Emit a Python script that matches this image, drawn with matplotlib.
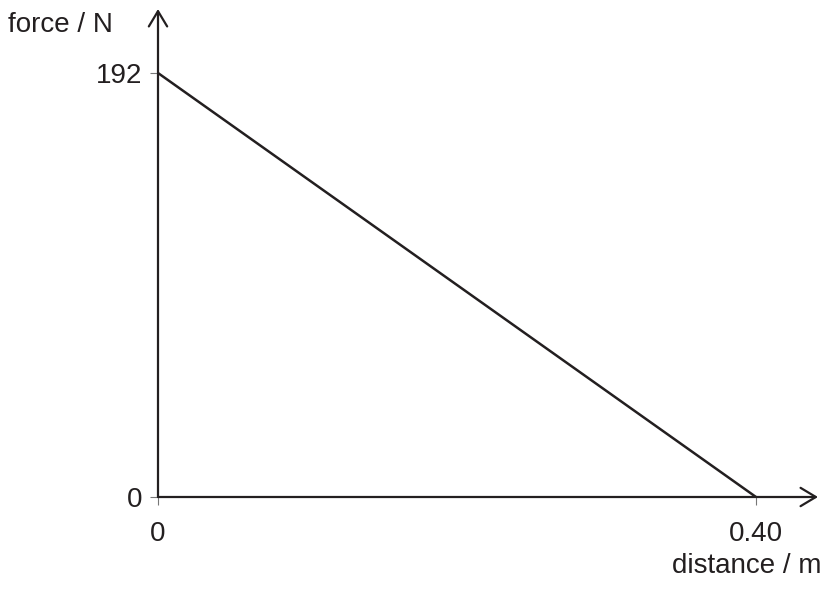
import matplotlib
matplotlib.use("Agg")
import matplotlib.pyplot as plt

distance = [0.0, 0.40]
force = [192, 0]
xticks = [0, 0.40]
xtick_labels = ["0", "0.40"]
yticks = [0, 192]
ytick_labels = ["0", "192"]

plt.rcParams['font.family'] = ['Liberation Sans', 'DejaVu Sans']
W, H = 825, 591
fig = plt.figure(figsize=(W / 100, H / 100), dpi=100)
x0, y0 = 158, 497
x1, y1 = 756, 73
ax = fig.add_axes([x0 / W, (H - y0) / H, (x1 - x0) / W, (y0 - y1) / H])
ax.set_xlim(0, 0.40)
ax.set_ylim(0, 192)
for s in ax.spines.values():
    s.set_visible(False)

ax.plot(distance, force, color='#231f20', lw=1.8, clip_on=False, solid_capstyle='butt')

# axes with arrows
xend = 0.40 * (818 - x0) / (x1 - x0)
yend = 192 * (y0 - 9) / (y0 - y1)
ax.annotate('', xy=(xend, 0), xytext=(0, 0), xycoords='data',
            arrowprops=dict(arrowstyle='->,head_length=0.5,head_width=0.3', lw=1.6,
                            color='#231f20', mutation_scale=22, shrinkA=0, shrinkB=0),
            annotation_clip=False)
ax.annotate('', xy=(0, yend), xytext=(0, 0), xycoords='data',
            arrowprops=dict(arrowstyle='->,head_length=0.5,head_width=0.3', lw=1.6,
                            color='#231f20', mutation_scale=22, shrinkA=0, shrinkB=0),
            annotation_clip=False)

ax.set_xticks(xticks)
ax.set_xticklabels(xtick_labels)
ax.set_yticks(yticks)
ax.set_yticklabels(ytick_labels)
ax.tick_params(axis='both', direction='out', length=6, width=0.8, color='#777777',
               labelsize=20, labelcolor='#231f20')
ax.tick_params(axis='x', pad=11)
ax.tick_params(axis='y', pad=5)

fig.text(8 / W, 1 - 25 / H, 'force / N', fontsize=20, color='#231f20',
         ha='left', va='center')
fig.text(822 / W, 1 - 566 / H, 'distance / m', fontsize=20, color='#231f20',
         ha='right', va='center')

fig.savefig('out.png', dpi=100)
